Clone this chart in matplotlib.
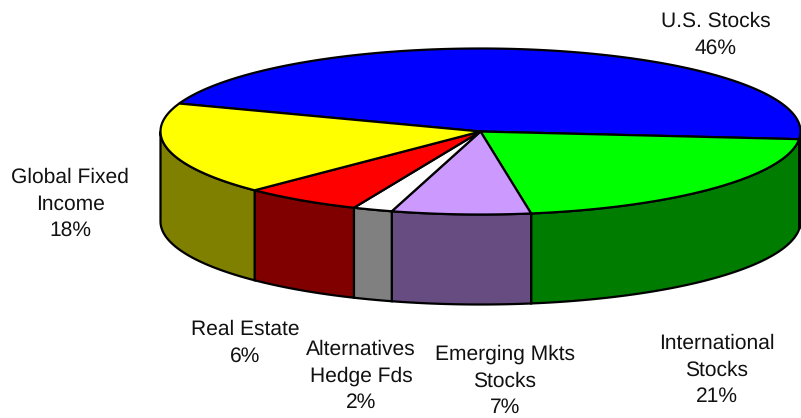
import numpy as np
import matplotlib
matplotlib.use('Agg')
import matplotlib.pyplot as plt
from matplotlib.patches import Polygon

plt.rcParams['font.family'] = ['Liberation Sans', 'DejaVu Sans']
plt.rcParams['text.hinting'] = 'no_hinting'
plt.rcParams['text.hinting_factor'] = 1

# slices, clockwise from the upper left
categories = ['U.S. Stocks', 'International\nStocks', 'Emerging Mkts\nStocks',
              'Alternatives\nHedge Fds', 'Real Estate', 'Global Fixed\nIncome']
values = [46, 21, 7, 2, 6, 18]
top_colors = ['#0000FF', '#00FF00', '#CC99FF', '#FFFFFF', '#FF0000', '#FFFF00']
side_colors = ['#000080', '#007C00', '#664C80', '#808080', '#800000', '#808000']
label_pos = [(716, 35), (717, 370), (505, 381), (361, 376), (245, 343), (70, 204)]

# pie geometry in pixels
cx, cy = 480.5, 131.5
rx, ry = 320, 83
depth = 90
start_angle = 160.3


def ellipse_pts(a0, a1, dy=0):
    t = np.radians(np.linspace(a0, a1, 200))
    return np.column_stack([cx + rx * np.cos(t), cy + dy - ry * np.sin(t)])


fig = plt.figure(figsize=(8.01, 4.18), dpi=100)
ax = fig.add_axes([0, 0, 1, 1])
ax.set_xlim(0, 801)
ax.set_ylim(418, 0)
ax.axis('off')

# work out slice angles, going clockwise
sweep = np.array(values) / sum(values) * 360
ends = start_angle - np.cumsum(sweep)
starts = np.concatenate([[start_angle], ends[:-1]])

# side walls first, only the part on the front of the pie
for a0, a1, c in zip(starts, ends, side_colors):
    hi = min(a0, 0)
    lo = max(a1, -180)
    if hi > lo:
        pts = np.vstack([ellipse_pts(hi, lo), ellipse_pts(lo, hi, depth)])
        ax.add_patch(Polygon(pts, closed=True, fc=c, ec='black', lw=1.6, zorder=2))

# top faces
for a0, a1, c in zip(starts, ends, top_colors):
    pts = np.vstack([[cx, cy], ellipse_pts(a0, a1)])
    ax.add_patch(Polygon(pts, closed=True, fc=c, ec='black', lw=1.6, zorder=3))

for name, v, (x, y) in zip(categories, values, label_pos):
    ax.text(x, y, f'{name}\n{v}%', ha='center', va='center', fontsize=15.2,
            color='#111111', linespacing=1.47)

fig.savefig('out.png', dpi=100)
